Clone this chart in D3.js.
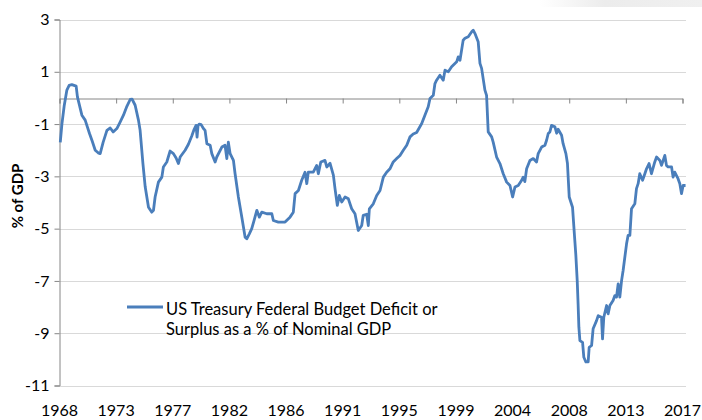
<!DOCTYPE html>
<html>
<head>
<meta charset="utf-8">
<script src="https://cdn.jsdelivr.net/npm/d3@7.9.0/dist/d3.min.js"></script>
<style>
  body { margin: 0; background: #fff; }
  svg { display: block; font-family: Lato, "Open Sans", sans-serif; }
</style>
</head>
<body>
<svg id="chart" width="702" height="420"></svg>
<script>
// decimal year of each reading
const years = [
  1968.06, 1968.19, 1968.37, 1968.58, 1968.76, 1968.97, 1969.31, 1969.41, 1969.76, 1970.02,
  1970.36, 1970.57, 1970.81, 1971.04, 1971.20, 1971.43, 1971.73, 1971.99, 1972.22, 1972.51,
  1972.72, 1973.03, 1973.30, 1973.56, 1973.71, 1973.95, 1974.21, 1974.34, 1974.56, 1974.74,
  1975.00, 1975.26, 1975.39, 1975.52, 1975.78, 1976.05, 1976.17, 1976.44, 1976.70, 1976.96,
  1977.17, 1977.35, 1977.49, 1977.88, 1978.14, 1978.41, 1978.59, 1978.74, 1978.82, 1978.90,
  1979.00, 1979.14, 1979.32, 1979.45, 1979.59, 1979.85, 1979.98, 1980.24, 1980.37, 1980.77,
  1981.02, 1981.16, 1981.28, 1981.42, 1981.68, 1981.81, 1982.07, 1982.34, 1982.60, 1982.73,
  1982.93, 1983.12, 1983.30, 1983.52, 1983.72, 1983.91, 1984.30, 1984.70, 1984.82, 1985.21,
  1985.74, 1986.13, 1986.39, 1986.53, 1986.79, 1987.05, 1987.31, 1987.45, 1987.57, 1987.96,
  1988.23, 1988.36, 1988.55, 1988.88, 1989.02, 1989.28, 1989.54, 1989.67, 1989.85, 1990.01,
  1990.20, 1990.46, 1990.72, 1990.98, 1991.24, 1991.50, 1991.77, 1991.89, 1992.16, 1992.29,
  1992.37, 1992.68, 1992.95, 1993.21, 1993.47, 1993.73, 1993.99, 1994.25, 1994.52, 1994.78,
  1995.04, 1995.31, 1995.57, 1995.82, 1996.09, 1996.49, 1996.74, 1997.00, 1997.14, 1997.40,
  1997.53, 1997.66, 1997.92, 1998.18, 1998.32, 1998.58, 1998.84, 1999.24, 1999.36, 1999.50,
  1999.75, 1999.89, 2000.15, 2000.42, 2000.54, 2000.67, 2000.93, 2001.07, 2001.20, 2001.46,
  2001.59, 2001.72, 2001.99, 2002.11, 2002.38, 2002.64, 2002.90, 2003.17, 2003.43, 2003.64,
  2003.82, 2004.08, 2004.35, 2004.47, 2004.60, 2004.74, 2005.00, 2005.26, 2005.52, 2005.65,
  2005.92, 2006.18, 2006.31, 2006.44, 2006.57, 2006.70, 2006.96, 2007.10, 2007.22, 2007.49,
  2007.61, 2007.83, 2007.95, 2008.09, 2008.35, 2008.53, 2008.61, 2008.72, 2008.79, 2008.85,
  2008.93, 2009.14, 2009.24, 2009.40, 2009.58, 2009.66, 2009.85, 2009.97, 2010.24, 2010.37,
  2010.63, 2010.71, 2010.81, 2011.03, 2011.15, 2011.29, 2011.54, 2011.68, 2011.81, 2011.94,
  2012.07, 2012.21, 2012.33, 2012.60, 2012.72, 2012.86, 2012.99, 2013.25, 2013.38, 2013.51,
  2013.64, 2013.86, 2014.04, 2014.17, 2014.37, 2014.56, 2014.82, 2014.96, 2015.22, 2015.35,
  2015.61, 2015.74, 2015.87, 2016.14, 2016.26, 2016.39, 2016.65, 2016.79, 2016.92, 2017.05,
  2017.24
];

// deficit (-) / surplus (+) as % of nominal GDP
const balance = [
  -1.70, -1.00, -0.30, 0.30, 0.48, 0.51, 0.45, 0.04, -0.66, -0.85,
  -1.36, -1.65, -2.00, -2.10, -2.13, -1.70, -1.24, -1.15, -1.30, -1.17,
  -0.97, -0.66, -0.32, -0.06, -0.05, -0.28, -0.85, -1.24, -2.50, -3.40,
  -4.18, -4.37, -4.30, -3.79, -3.22, -3.03, -2.64, -2.45, -2.03, -2.13,
  -2.30, -2.51, -2.26, -2.00, -1.77, -1.45, -1.20, -1.05, -1.50, -1.05,
  -1.00, -1.02, -1.17, -1.24, -1.75, -1.81, -2.13, -2.45, -2.26, -1.88,
  -1.81, -2.32, -1.69, -2.13, -2.39, -2.90, -3.79, -4.56, -5.33, -5.39,
  -5.20, -5.00, -4.69, -4.30, -4.56, -4.37, -4.43, -4.43, -4.69, -4.75,
  -4.75, -4.56, -4.37, -3.66, -3.54, -3.15, -2.84, -3.28, -2.84, -2.84,
  -2.58, -2.90, -2.45, -2.39, -2.64, -2.50, -2.95, -3.47, -4.11, -3.73,
  -3.98, -3.79, -3.86, -4.24, -4.43, -5.07, -4.88, -4.49, -4.45, -4.88,
  -4.24, -4.05, -3.73, -3.54, -3.03, -2.84, -2.71, -2.45, -2.32, -2.20,
  -2.00, -1.81, -1.49, -1.38, -1.32, -0.98, -0.66, -0.34, -0.02, 0.10,
  0.55, 0.68, 0.87, 0.68, 1.06, 1.00, 1.19, 1.38, 1.57, 1.44,
  2.21, 2.28, 2.34, 2.53, 2.59, 2.47, 2.15, 1.32, 1.13, 0.30,
  0.10, -1.30, -1.49, -1.69, -2.26, -2.51, -2.90, -3.22, -3.35, -3.79,
  -3.41, -3.35, -3.15, -3.03, -3.20, -2.71, -2.39, -2.32, -2.45, -2.13,
  -1.88, -1.81, -1.62, -1.36, -1.30, -1.05, -1.10, -1.35, -1.20, -1.43,
  -1.75, -2.13, -2.50, -3.79, -4.18, -5.45, -6.00, -7.00, -7.90, -8.77,
  -9.28, -9.35, -9.92, -10.10, -10.10, -9.54, -9.47, -8.83, -8.52, -8.33,
  -8.39, -9.22, -8.39, -7.94, -8.26, -7.94, -7.75, -7.56, -7.62, -7.11,
  -7.62, -6.98, -6.60, -5.58, -5.26, -5.26, -4.24, -4.05, -3.47, -3.28,
  -2.90, -3.15, -2.90, -2.71, -2.51, -2.90, -2.45, -2.26, -2.39, -2.58,
  -2.20, -2.58, -2.64, -2.64, -3.03, -2.84, -3.09, -3.28, -3.66, -3.35,
  -3.35
];

const xTickLabels = ['1968', '1973', '1977', '1982', '1986', '1991', '1995', '1999', '2004', '2008', '2013', '2017'];
const yTicks = [3, 1, -1, -3, -5, -7, -9, -11];
const seriesName = ['US Treasury Federal Budget Deficit or', 'Surplus as a % of Nominal GDP'];

const svg = d3.select('#chart');
const plotLeft = 59.5, plotRight = 682.5, plotTop = 19.5, plotBottom = 385.5;

const x = d3.scaleLinear().domain([1968, 2017]).range([plotLeft, plotRight]);
const y = d3.scaleLinear().domain([-11, 3]).range([plotBottom, plotTop]);

// faint shading in the top-right corner
const grad = svg.append('defs').append('linearGradient').attr('id', 'fade');
grad.append('stop').attr('offset', '0%').attr('stop-color', '#fff');
grad.append('stop').attr('offset', '40%').attr('stop-color', '#ececec');
grad.append('stop').attr('offset', '100%').attr('stop-color', '#f0f0f0');
svg.append('rect').attr('x', 540).attr('y', 0).attr('width', 162).attr('height', 7)
  .attr('fill', 'url(#fade)');

// gridlines
svg.append('g')
  .selectAll('line')
  .data(yTicks)
  .join('line')
  .attr('x1', plotLeft)
  .attr('x2', 686)
  .attr('y1', (d) => Math.round(y(d)) + 0.5)
  .attr('y2', (d) => Math.round(y(d)) + 0.5)
  .attr('stroke', '#d9d9d9')
  .attr('stroke-width', 1.2);

// y axis
const yAxis = svg.append('g')
  .attr('transform', `translate(${plotLeft},0)`)
  .call(d3.axisLeft(y).tickValues(yTicks).tickSize(5).tickPadding(5).tickFormat(d3.format('d')));
yAxis.select('.domain').attr('stroke', '#868686');
yAxis.selectAll('.tick line').attr('stroke', '#868686');
yAxis.selectAll('.tick text')
  .attr('font-size', 16)
  .attr('font-family', 'Lato, sans-serif')
  .attr('fill', '#000')
  .text((d) => d < 0 ? '-' + Math.abs(d) : d);

// zero line with year ticks
const xTickVals = d3.range(xTickLabels.length).map((i) => 1968 + i * 49 / (xTickLabels.length - 1));
const zeroY = Math.round(y(0)) + 0.5;
const xAxis = svg.append('g')
  .attr('transform', `translate(0,${zeroY})`)
  .call(d3.axisBottom(x).tickValues(xTickVals).tickSize(5).tickFormat(''));
xAxis.select('.domain').attr('stroke', '#868686');
xAxis.selectAll('.tick line').attr('stroke', '#868686');

// year labels along the bottom
svg.append('g')
  .selectAll('text')
  .data(xTickVals)
  .join('text')
  .attr('x', (d) => x(d))
  .attr('y', 416)
  .attr('text-anchor', 'middle')
  .attr('font-size', 16)
  .attr('fill', '#000')
  .text((_d, i) => xTickLabels[i]);

// y label
svg.append('text')
  .attr('transform', 'translate(23,196) rotate(-90)')
  .attr('text-anchor', 'middle')
  .attr('font-size', 15)
  .attr('font-weight', 'bold')
  .attr('fill', '#000')
  .text('% of GDP');

// the series
const line = d3.line()
  .x((d) => x(d[0]))
  .y((d) => y(d[1]));

svg.append('path')
  .datum(d3.zip(years, balance))
  .attr('d', line)
  .attr('fill', 'none')
  .attr('stroke', '#4a7ebb')
  .attr('stroke-width', 2.8)
  .attr('stroke-linejoin', 'round');

// legend
const legend = svg.append('g');
legend.append('line')
  .attr('x1', 127).attr('x2', 163)
  .attr('y1', 307).attr('y2', 307)
  .attr('stroke', '#4a7ebb')
  .attr('stroke-width', 2.8);
legend.selectAll('text')
  .data(seriesName)
  .join('text')
  .attr('x', 166)
  .attr('y', (_d, i) => 315 + i * 19.5)
  .attr('font-size', 16.5)
  .attr('fill', '#000')
  .text((d) => d);
</script>
</body>
</html>
